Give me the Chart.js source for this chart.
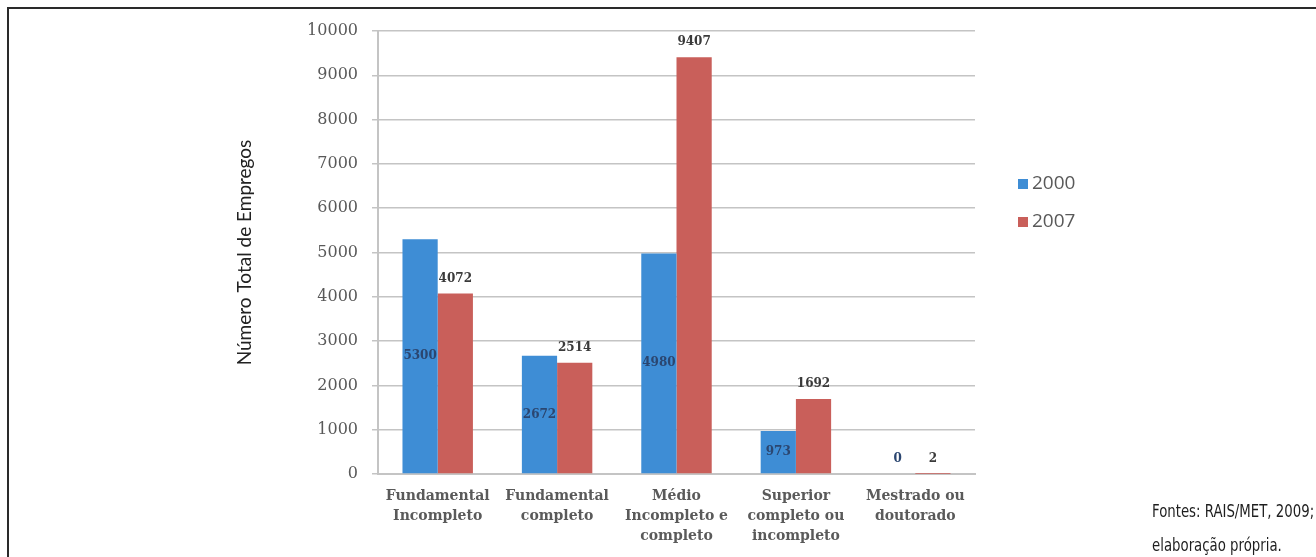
<!DOCTYPE html>
<html lang="pt">
<head>
<meta charset="utf-8">
<title>Número Total de Empregos por escolaridade</title>
<script src="https://cdn.jsdelivr.net/npm/chart.js@4.4.1/dist/chart.umd.min.js"></script>
<style>
  html, body { margin: 0; padding: 0; background: #fff; overflow: hidden; }
  #wrap { position: relative; width: 1316px; height: 557px; }
  #frame { position: absolute; left: 7px; top: 7px; width: 1400px; height: 600px;
           border-left: 2px solid #2a2a2a; border-top: 2px solid #2a2a2a; }
  canvas { position: absolute; left: 0; top: 0; }
  .src { position: absolute; left: 1152px; white-space: nowrap; color: #1e1e1e;
         font-family: "Liberation Sans Narrow", "DejaVu Sans Condensed", "Roboto", sans-serif;
         font-size: 17px; transform: scaleX(0.87); transform-origin: left top; }
</style>
</head>
<body>
<div id="wrap">
  <div id="frame"></div>
  <canvas id="chart" width="1316" height="557"></canvas>
  <div class="src" style="top:501px">Fontes: RAIS/MET, 2009;</div>
  <div class="src" style="top:535px">elaboração própria.</div>
</div>
<script>
// Categorias de escolaridade (rótulos em várias linhas)
const categories = [
  ['Fundamental', 'Incompleto'],
  ['Fundamental', 'completo'],
  ['Médio', 'Incompleto e', 'completo'],
  ['Superior', 'completo ou', 'incompleto'],
  ['Mestrado ou', 'doutorado']
];
const seriesNames = ['2000', '2007'];
const values2000 = [5300, 2672, 4980, 973, 0];
const values2007 = [4072, 2514, 9407, 1692, 2];
const yTicks = [0, 1000, 2000, 3000, 4000, 5000, 6000, 7000, 8000, 9000, 10000];

const colors = ['#3e8dd5', '#c95f5a'];

// Rótulos de valor: 2000 no meio da barra, 2007 acima da barra
const valueLabels = {
  id: 'valueLabels',
  afterDatasetsDraw(chart) {
    const ctx = chart.ctx;
    ctx.save();
    ctx.textAlign = 'center';
    ctx.textBaseline = 'middle';
    ctx.font = 'bold 12px "DejaVu Serif"';
    chart.data.datasets.forEach((ds, di) => {
      const meta = chart.getDatasetMeta(di);
      meta.data.forEach((el, i) => {
        const v = ds.data[i];
        let y;
        if (di === 0) {
          const h = el.base - el.y;
          y = h < 24 ? el.y - 15 : (el.y + el.base) / 2;
          ctx.fillStyle = '#2b4670';
        } else {
          y = el.y - 15;
          ctx.fillStyle = '#3a3a3a';
        }
        ctx.fillText(String(v), el.x, y);
      });
    });
    ctx.restore();
  }
};

// Legenda à direita do gráfico
const sideLegend = {
  id: 'sideLegend',
  afterDraw(chart) {
    const ctx = chart.ctx;
    ctx.save();
    ctx.font = '19px "Open Sans"';
    ctx.textBaseline = 'middle';
    ctx.textAlign = 'left';
    chart.data.datasets.forEach((ds, i) => {
      const cy = 184 + i * 38;
      ctx.fillStyle = ds.backgroundColor;
      ctx.fillRect(1018, cy - 5, 10, 10);
      ctx.fillStyle = '#595959';
      ctx.fillText(ds.label, 1032, cy);
    });
    ctx.restore();
  }
};

new Chart(document.getElementById('chart'), {
  type: 'bar',
  data: {
    labels: categories,
    datasets: [
      { label: seriesNames[0], data: values2000, backgroundColor: colors[0] },
      { label: seriesNames[1], data: values2007, backgroundColor: colors[1] }
    ]
  },
  options: {
    responsive: false,
    animation: false,
    devicePixelRatio: 1,
    categoryPercentage: 0.59,
    barPercentage: 1.0,
    layout: { padding: { left: 230, right: 341, top: 31, bottom: 0 } },
    plugins: {
      legend: { display: false },
      tooltip: { enabled: false }
    },
    scales: {
      x: {
        grid: { display: false, drawTicks: false },
        border: { display: true, color: '#c4c4c4', width: 2 },
        ticks: {
          color: '#5a5a5a',
          padding: 12,
          maxRotation: 0,
          autoSkip: false,
          font: { family: '"DejaVu Serif"', size: 14, weight: 'bold', lineHeight: 1.43 }
        },
        afterFit(scale) { scale.height = 83; }
      },
      y: {
        min: 0,
        max: 10000,
        afterBuildTicks(scale) { scale.ticks = yTicks.map(v => ({ value: v })); },
        grid: { color: '#c4c4c4', lineWidth: 1.5, tickLength: 6 },
        border: { display: true, color: '#c4c4c4', width: 2 },
        ticks: {
          color: '#595959',
          padding: 14,
          font: { family: '"DejaVu Serif"', size: 16 },
          callback: (v) => String(v)
        },
        title: {
          display: true,
          text: 'Número Total de Empregos',
          color: '#222222',
          padding: { top: 3, bottom: 0 },
          font: { family: 'Lato', size: 19 }
        },
        afterFit(scale) { scale.width = 148; }
      }
    }
  },
  plugins: [valueLabels, sideLegend]
});
</script>
</body>
</html>
